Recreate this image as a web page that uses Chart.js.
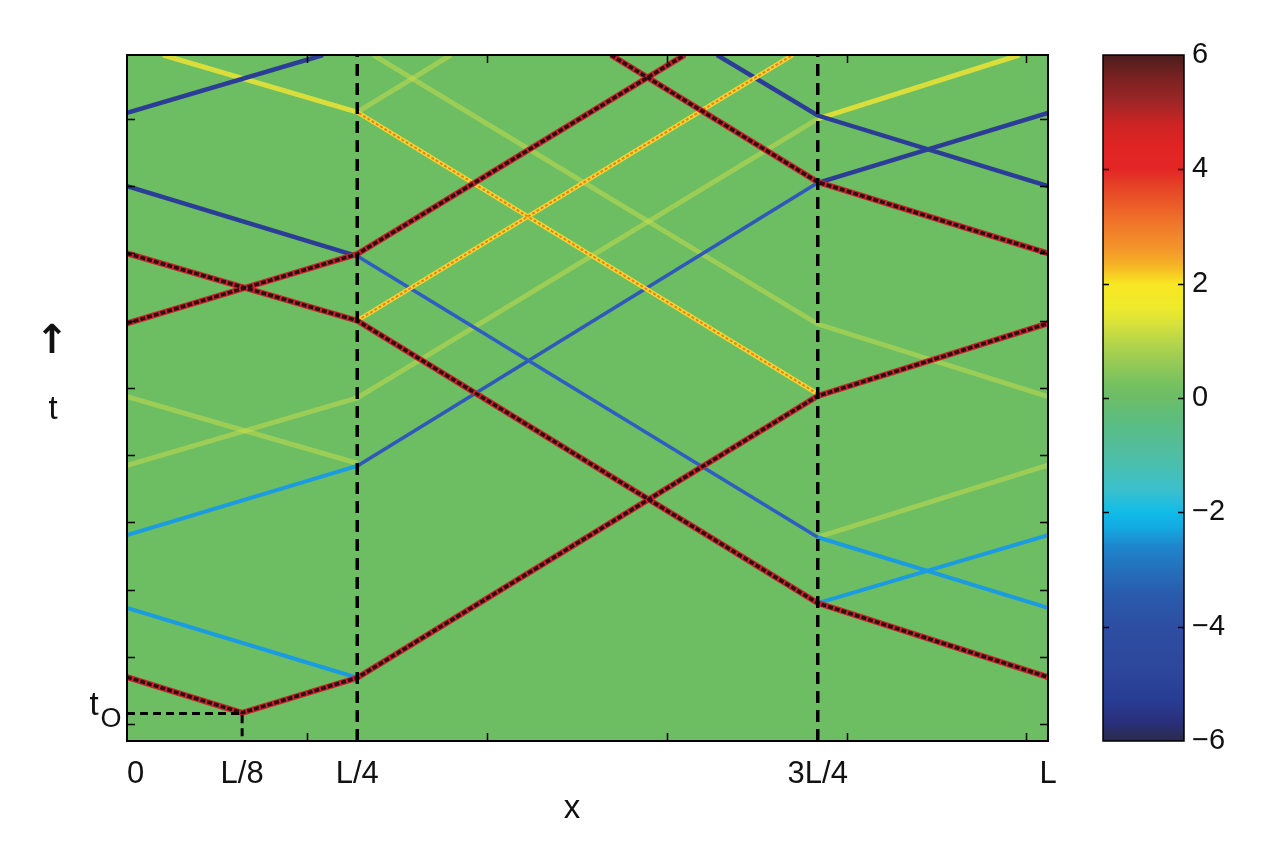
<!DOCTYPE html>
<html>
<head>
<meta charset="utf-8">
<script src="https://cdn.jsdelivr.net/npm/chart.js@4.4.1/dist/chart.umd.min.js"></script>
<style>
  body { margin: 0; background: #fff; }
  #wrap { position: relative; width: 1276px; height: 854px; }
  #main { position: absolute; left: 0; top: 0; }
  #cbar { position: absolute; left: 1076px; top: 0; }
</style>
</head>
<body>
<div id="wrap">
  <canvas id="main" width="1276" height="854"></canvas>
  <canvas id="cbar" width="200" height="854"></canvas>
</div>
<script>
// x in grid points (L = 512), t in plot time units
const xLabelPos = [0, 64, 128, 384, 512];
const xLabelText = ['  0', 'L/8', 'L/4', '3L/4', 'L'];
const xTickMarks = [100, 200, 300, 400, 500];
const yTickMarks = [0, 1, 2, 3, 4, 5, 6, 7, 8, 9];
const t0 = 0.16;

// large solitons (dark red / black)
const sol1 = [[0, 0.70], [64, 0.17], [128, 0.69], [384, 4.88], [512, 5.96]];
const sol2 = [[0, 7.00], [128, 6.00], [384, 1.80], [512, 0.70]];
const sol3 = [[0, 5.96], [128, 6.99], [310, 9.95]];
const sol4 = [[269, 9.95], [384, 8.06], [512, 7.00]];

// negative pulses (blue), left-moving A and right-moving B
const blueALow1 = [[128, 0.69], [0, 1.73]];
const blueALow2 = [[512, 1.73], [384, 2.78]];
const blueAMid = [[384, 2.78], [128, 6.96]];
const blueAUp1 = [[128, 6.96], [0, 8.00]];
const blueAUp2 = [[512, 8.00], [384, 9.05], [328, 9.95]];
const blueBLow1 = [[384, 1.80], [512, 2.81]];
const blueBLow2 = [[0, 2.81], [128, 3.84]];
const blueBMid = [[128, 3.84], [384, 8.05]];
const blueBUp1 = [[384, 8.05], [512, 9.09]];
const blueBUp2 = [[0, 9.09], [109, 9.95]];

// positive pulses (orange / yellow)
const orange1 = [[384, 4.91], [128, 9.10]];
const orange2 = [[128, 6.00], [370, 9.95]];
const yellow1 = [[128, 9.10], [20, 9.95]];
const yellow2 = [[384, 9.00], [496, 9.95]];
const faintA1 = [[128, 3.88], [0, 4.87]];
const faintA2 = [[512, 4.87], [384, 5.95], [137, 9.95]];
const faintB1 = [[384, 2.78], [512, 3.85]];
const faintB2 = [[0, 3.85], [128, 4.85], [384, 9.00]];
const faintC = [[128, 9.10], [180, 9.95]];

// dashed guides
const guideQ1 = [[128, -0.25], [128, 9.95]];
const guideQ3 = [[384, -0.25], [384, 9.95]];
const guideT0 = [[0, t0], [64, t0], [64, -0.25]];

// colorbar
const cbarStops = [-6, -5.7, -5.3, -4.8, -4, -3.4, -3, -2.6, -2.3, -2, -1.6, -1.2, -0.8, -0.4, 0,
  0.2, 0.6, 1, 1.3, 1.6, 2, 2.3, 2.6, 3, 3.4, 3.8, 4, 4.4, 4.8, 5.2, 5.6, 6];
const cbarColors = ['#2a2a4a', '#2a2f78', '#283c94', '#2c469c', '#2d4ea2', '#2a5cae', '#2470bc',
  '#1e86cc', '#14a6e0', '#10bce8', '#3cc0cc', '#48bfb0', '#54bd98', '#5cbd80', '#6cbd68',
  '#74c062', '#94ca56', '#b8d648', '#d8e23a', '#f0ea2c', '#f8e622', '#f6b626', '#f3962a',
  '#f07a2a', '#ec5a28', '#e43a26', '#e42626', '#e02424', '#cc2424', '#9c2626', '#7a2222', '#4a1c1c'];
const cbarMarks = [-4, -2, 0, 2, 4];

const FONT = "'Liberation Sans', Arial, sans-serif";

function pts(arr) {
  return arr.map(p => ({ x: p[0], y: p[1] }));
}

function line(data, color, width, order, dash) {
  return {
    data: pts(data),
    borderColor: color,
    borderWidth: width,
    borderDash: dash || [],
    borderCapStyle: 'butt',
    pointRadius: 0,
    tension: 0,
    fill: false,
    clip: 0,
    order: order
  };
}

const framePlugin = {
  id: 'frame',
  afterDatasetsDraw(chart, args, opts) {
    const { ctx, chartArea: a, scales } = chart;
    ctx.save();
    ctx.strokeStyle = '#000';
    ctx.lineWidth = 1.5;
    ctx.beginPath();
    (opts.xMarks || []).forEach(v => {
      const px = Math.round(scales.x.getPixelForValue(v)) + 0.5;
      ctx.moveTo(px, a.bottom); ctx.lineTo(px, a.bottom - opts.len);
      ctx.moveTo(px, a.top); ctx.lineTo(px, a.top + opts.len);
    });
    (opts.yMarks || []).forEach(v => {
      const py = Math.round(scales.y.getPixelForValue(v)) + 0.5;
      ctx.moveTo(a.left, py); ctx.lineTo(a.left + opts.len, py);
      ctx.moveTo(a.right, py); ctx.lineTo(a.right - opts.len, py);
    });
    ctx.stroke();
    ctx.lineWidth = opts.borderWidth;
    ctx.strokeRect(a.left, a.top, a.right - a.left, a.bottom - a.top);
    ctx.restore();
  }
};

const bgPlugin = {
  id: 'bg',
  beforeDatasetsDraw(chart, args, opts) {
    if (!opts.color) return;
    const { ctx, chartArea: a } = chart;
    ctx.save();
    ctx.fillStyle = opts.color;
    ctx.fillRect(a.left, a.top, a.right - a.left, a.bottom - a.top);
    ctx.restore();
  }
};

// axis words that are not tick labels
const textPlugin = {
  id: 'words',
  afterDraw(chart) {
    const ctx = chart.ctx;
    ctx.save();
    ctx.fillStyle = '#111';
    ctx.textAlign = 'center';
    ctx.textBaseline = 'alphabetic';
    ctx.font = '33px ' + FONT;
    ctx.fillText('x', 572, 818);
    ctx.fillText('t', 53, 419);
    ctx.fillText('t', 94, 715);
    ctx.font = '27px ' + FONT;
    ctx.fillText('O', 111, 727);
    ctx.font = "bold 40px 'DejaVu Sans', sans-serif";
    ctx.textBaseline = 'middle';
    ctx.fillText('\u2191', 52, 343);
    ctx.restore();
  }
};

const darkRed = '#c8232a';
const darkCore = '#2a0e14';
const faint = 'rgba(222,226,70,0.42)';

new Chart(document.getElementById('main'), {
  type: 'line',
  data: {
    datasets: [
      line(guideQ1, '#000', 3.5, 0, [12, 7]),
      line(guideQ3, '#000', 3.5, 0, [12, 7]),
      line(guideT0, '#000', 3, 0, [8, 5]),
      line(sol1, darkCore, 3.5, 1, [5, 2]),
      line(sol2, darkCore, 3.5, 1, [5, 2]),
      line(sol3, darkCore, 3.5, 1, [5, 2]),
      line(sol4, darkCore, 3.5, 1, [5, 2]),
      line(sol1, darkRed, 6, 2),
      line(sol2, darkRed, 6, 2),
      line(sol3, darkRed, 6, 2),
      line(sol4, darkRed, 6, 2),
      line(orange1, '#ee7d22', 2, 3, [3, 2]),
      line(orange2, '#ee7d22', 2, 3, [3, 2]),
      line(orange1, '#f2d82e', 4.5, 4),
      line(orange2, '#f2d82e', 4.5, 4),
      line(blueAUp1, '#2c3d98', 4.5, 5),
      line(blueAUp2, '#2c3d98', 4.5, 5),
      line(blueBUp1, '#2c3d98', 4.5, 5),
      line(blueBUp2, '#2c3d98', 4.5, 5),
      line(blueAMid, '#2e5ec2', 3.5, 6),
      line(blueBMid, '#2e58ba', 3.5, 6),
      line(blueALow1, '#1c9ce0', 4, 7),
      line(blueALow2, '#1c9ce0', 4, 7),
      line(blueBLow1, '#1c9ce0', 4, 7),
      line(blueBLow2, '#1c9ce0', 4, 7),
      line(yellow1, 'rgba(236,228,50,0.85)', 5, 8),
      line(yellow2, 'rgba(236,228,50,0.85)', 5, 8),
      line(faintA1, faint, 5, 9),
      line(faintA2, faint, 5, 9),
      line(faintB1, faint, 5, 9),
      line(faintB2, faint, 5, 9),
      line(faintC, faint, 5, 9)
    ]
  },
  options: {
    responsive: false,
    animation: false,
    events: [],
    layout: { padding: { left: 0, top: 55, right: 228, bottom: 0 } },
    plugins: {
      legend: { display: false },
      tooltip: { enabled: false },
      bg: { color: '#6dbd63' },
      frame: { xMarks: xTickMarks, yMarks: yTickMarks, len: 8, borderWidth: 2 }
    },
    scales: {
      x: {
        type: 'linear',
        min: 0,
        max: 512,
        grid: { display: false, drawTicks: false },
        border: { display: false },
        afterBuildTicks: axis => { axis.ticks = xLabelPos.map(v => ({ value: v })); },
        afterFit: axis => { axis.height = 113; },
        ticks: {
          autoSkip: false,
          maxRotation: 0,
          padding: 15,
          color: '#111',
          font: { family: FONT, size: 31 },
          callback: (v, i) => xLabelText[i]
        }
      },
      y: {
        type: 'linear',
        min: -0.25,
        max: 9.95,
        grid: { display: false, drawTicks: false },
        border: { display: false },
        ticks: { display: false },
        afterFit: axis => { axis.width = 127; }
      }
    }
  },
  plugins: [bgPlugin, framePlugin, textPlugin]
});

new Chart(document.getElementById('cbar'), {
  type: 'bar',
  data: {
    labels: [''],
    datasets: [{
      data: [[-6, 6]],
      barPercentage: 1,
      categoryPercentage: 1,
      borderWidth: 0,
      backgroundColor: c => {
        const ch = c.chart;
        if (!ch.chartArea) return '#6cbd68';
        const ys = ch.scales.y;
        const g = ch.ctx.createLinearGradient(0, ys.getPixelForValue(-6), 0, ys.getPixelForValue(6));
        cbarStops.forEach((v, i) => g.addColorStop((v + 6) / 12, cbarColors[i]));
        return g;
      }
    }]
  },
  options: {
    responsive: false,
    animation: false,
    events: [],
    layout: { padding: { left: 27, top: 55, right: 0, bottom: 113 } },
    plugins: {
      legend: { display: false },
      tooltip: { enabled: false },
      frame: { yMarks: cbarMarks, len: 6, borderWidth: 1.5 }
    },
    scales: {
      x: { display: false },
      y: {
        position: 'right',
        min: -6,
        max: 6,
        grid: { display: false, drawTicks: false },
        border: { display: false },
        afterFit: axis => { axis.width = 92; },
        ticks: {
          stepSize: 2,
          padding: 8,
          color: '#111',
          font: { family: FONT, size: 29 },
          callback: v => String(v).replace('-', '\u2212')
        }
      }
    }
  },
  plugins: [framePlugin]
});
</script>
</body>
</html>
